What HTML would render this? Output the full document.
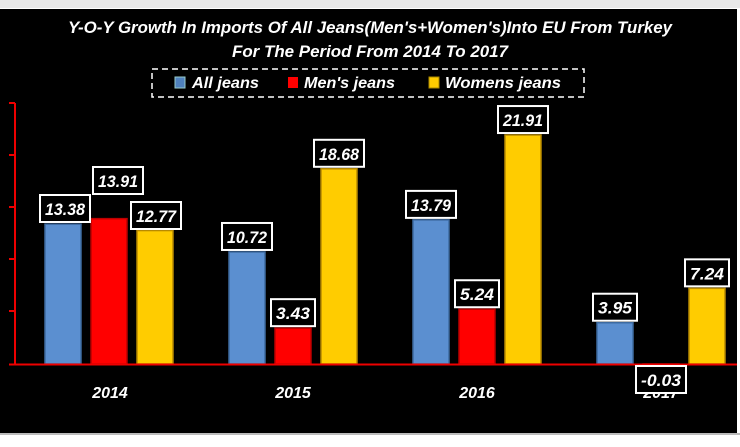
<!DOCTYPE html>
<html><head><meta charset="utf-8"><style>body{margin:0;background:#fff}svg{display:block}</style></head><body>
<svg width="740" height="447" xmlns="http://www.w3.org/2000/svg" font-family="Liberation Sans, sans-serif" font-weight="bold" font-style="italic">
<rect x="0" y="0" width="740" height="447" fill="#fff"/>
<rect x="0" y="0" width="740" height="8" fill="#e8e8e8"/>
<rect x="0" y="9" width="737" height="424" fill="#000"/>
<rect x="0" y="433" width="740" height="2" fill="#bbb"/>
<text x="370" y="33" fill="#fff" font-size="17" text-anchor="middle" textLength="604" lengthAdjust="spacingAndGlyphs">Y-O-Y Growth In Imports Of All Jeans(Men's+Women's)Into EU From Turkey</text>
<text x="370" y="57" fill="#fff" font-size="17" text-anchor="middle" textLength="276" lengthAdjust="spacingAndGlyphs">For The Period From 2014 To 2017</text>
<rect x="152" y="69" width="432" height="28" fill="none" stroke="#fff" stroke-width="1.5" stroke-dasharray="6,4"/>
<rect x="175" y="77" width="10" height="11" fill="#4f81bd" stroke="#9cc" stroke-width="1"/>
<text x="192" y="88" fill="#fff" font-size="16" textLength="67" lengthAdjust="spacingAndGlyphs">All jeans</text>
<rect x="288" y="77" width="10" height="11" fill="#f00"/>
<text x="304" y="88" fill="#fff" font-size="16" textLength="91" lengthAdjust="spacingAndGlyphs">Men's jeans</text>
<rect x="429" y="77" width="10" height="11" fill="#fc0" stroke="#a80" stroke-width="1"/>
<text x="445" y="88" fill="#fff" font-size="16" textLength="116" lengthAdjust="spacingAndGlyphs">Womens jeans</text>
<g stroke="#e00" stroke-width="2">
<line x1="15" y1="103" x2="15" y2="364"/>
<line x1="9" y1="103" x2="15" y2="103"/><line x1="9" y1="155" x2="15" y2="155"/><line x1="9" y1="207" x2="15" y2="207"/><line x1="9" y1="259" x2="15" y2="259"/><line x1="9" y1="311" x2="15" y2="311"/>
</g>
<g id="bars"></g>
<line x1="9" y1="364.5" x2="737" y2="364.5" stroke="#e00" stroke-width="2"/>
<g fill="#fff" font-size="16" text-anchor="middle">
<text x="110" y="398">2014</text><text x="293" y="398">2015</text><text x="477" y="398">2016</text><text x="661" y="398">2017</text>
</g>
<g id="labels"></g>
<script>
var d=[[13.38,13.91,12.77],[10.72,3.43,18.68],[13.79,5.24,21.91],[3.95,-0.03,7.24]];
var cols=[["#5b8fd0","#3d6aa0"],["#f00","#b00"],["#fc0","#b88a00"]];
var s=10.45,b=364,ns="http://www.w3.org/2000/svg",B=document.getElementById("bars"),L=document.getElementById("labels");
var over={"0,0":[65,195],"0,1":[118,167],"0,2":[156,202]};
function el(p,t,a,txt){var e=document.createElementNS(ns,t);for(var k in a)e.setAttribute(k,a[k]);if(txt)e.textContent=txt;p.appendChild(e);return e;}
for(var g=0;g<4;g++)for(var i=0;i<3;i++){var v=d[g][i],cx=63+g*184+i*46,h=Math.abs(v)*s,y=v>=0?b-h:b;
el(B,"rect",{x:cx-18,y:y,width:36,height:Math.max(h,1),fill:cols[i][0],stroke:cols[i][1],"stroke-width":1.5});
var t=v.toFixed(2),w=t.length>4?50:44,by=v>=0?y-29:b+2,lx=cx;
if(over[g+","+i]){lx=over[g+","+i][0];by=over[g+","+i][1];}
el(L,"rect",{x:lx-w/2,y:by,width:w,height:27,fill:"#000",stroke:"#fff","stroke-width":2});
el(L,"text",{x:lx,y:by+20,fill:"#fff","font-size":17,"text-anchor":"middle",textLength:w-10,lengthAdjust:"spacingAndGlyphs"},t);}
</script>
</svg>
</body></html>
